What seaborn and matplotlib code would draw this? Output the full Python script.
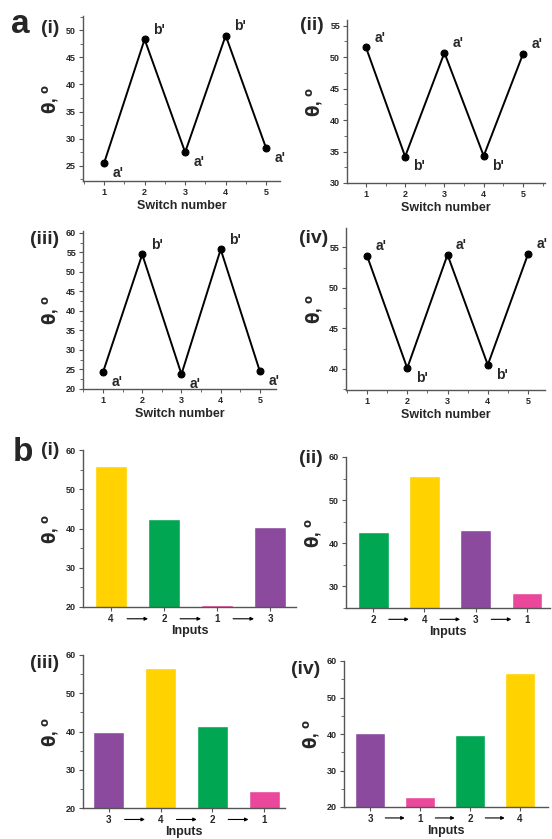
import numpy as np
import pandas as pd
import seaborn as sns
import matplotlib.pyplot as plt
from matplotlib.ticker import MultipleLocator

# ---- data ----
switch = [1, 2, 3, 4, 5]
a1_theta = [25.5, 48.3, 27.5, 49.0, 28.2]
a2_theta = [51.6, 34.2, 50.7, 34.3, 50.5]
a3_theta = [24.3, 54.5, 23.8, 55.8, 24.5]
a4_theta = [54.0, 40.1, 54.1, 40.5, 54.2]
a1_tags = ["a'", "b'", "a'", "b'", "a'"]
a2_tags = ["a'", "b'", "a'", "b'", "a'"]

b1_inputs = ["4", "2", "1", "3"]
b1_theta = [56.0, 42.5, 20.6, 40.3]
b2_inputs = ["2", "4", "3", "1"]
b2_theta = [42.7, 55.7, 43.0, 28.5]
b3_inputs = ["3", "4", "2", "1"]
b3_theta = [39.8, 56.5, 41.5, 24.5]
b4_inputs = ["3", "1", "2", "4"]
b4_theta = [40.2, 22.8, 39.7, 56.8]

input_colors = {"1": "#e9489b", "2": "#00a651", "3": "#8b4a9e", "4": "#ffd200"}

sns.set_style("ticks")
plt.rcParams["font.family"] = ["Liberation Sans", "DejaVu Sans"]
plt.rcParams["font.weight"] = "bold"

W, H = 552, 839
fig = plt.figure(figsize=(W / 100, H / 100), dpi=100)


def add_ax(left, right, top, bottom):
    return fig.add_axes([left / W, 1 - bottom / H, (right - left) / W, (bottom - top) / H])


def style_ax(ax, ymaj, ymin):
    sns.despine(ax=ax)
    for s in ["left", "bottom"]:
        ax.spines[s].set_linewidth(1.0)
        ax.spines[s].set_color("#555555")
    ax.yaxis.set_major_locator(MultipleLocator(ymaj))
    ax.yaxis.set_minor_locator(MultipleLocator(ymin))
    ax.tick_params(axis="both", which="major", direction="out", length=3, width=0.8,
                   labelsize=6.5, pad=2, color="#555555")
    ax.tick_params(axis="both", which="minor", direction="out", length=2, width=0.6,
                   color="#555555")
    for lab in ax.get_xticklabels() + ax.get_yticklabels():
        lab.set_fontweight("bold")
    ax.set_ylabel(r"$\mathbf{\theta}$, $^{\mathbf{o}}$", fontsize=12, fontweight="bold", labelpad=4)


def line_panel(ax, y, tags, xlim, ylim, ymaj, ymin, down_tag):
    df = pd.DataFrame({"switch": switch, "theta": y})
    sns.lineplot(data=df, x="switch", y="theta", ax=ax, color="black", lw=1.4,
                 marker="o", markersize=5, markeredgecolor="black")
    ax.set_xlim(*xlim)
    ax.set_ylim(*ylim)
    ax.xaxis.set_major_locator(MultipleLocator(1))
    ax.xaxis.set_minor_locator(MultipleLocator(0.5))
    style_ax(ax, ymaj, ymin)
    ax.set_xlabel("Switch number", fontsize=9, fontweight="bold", labelpad=2)
    for xv, yv, t in zip(switch, y, tags):
        off = (6, -10) if t == down_tag else (6, 4)
        ax.annotate(t, (xv, yv), xytext=off, textcoords="offset points",
                    fontsize=10, fontweight="bold")


def bar_panel(ax, inputs, y, xlim, ylim, ymaj, ymin):
    df = pd.DataFrame({"inp": inputs, "theta": y})
    sns.barplot(data=df, x="inp", y="theta", hue="inp", palette=input_colors,
                order=inputs, hue_order=inputs, ax=ax, width=0.6, legend=False,
                saturation=1)
    ax.set_xlim(*xlim)
    ax.set_ylim(*ylim)
    style_ax(ax, ymaj, ymin)
    ax.tick_params(axis="x", which="major", labelsize=7)
    ax.set_xlabel("Inputs", fontsize=9, fontweight="bold", labelpad=1)
    for i in range(len(inputs) - 1):
        ax.annotate("", xy=(i + 0.75, -0.075), xytext=(i + 0.25, -0.075),
                    xycoords=("data", "axes fraction"),
                    textcoords=("data", "axes fraction"),
                    arrowprops=dict(arrowstyle="-|>", lw=0.8, color="black",
                                    mutation_scale=5), annotation_clip=False)


# ---- panel a ----
ax = add_ax(83, 280, 16, 181)
line_panel(ax, a1_theta, a1_tags, (0.48, 5.34), (22.2, 52.6), 5, 2.5, "a'")
ax = add_ax(347, 545, 20, 183)
line_panel(ax, a2_theta, a2_tags, (0.52, 5.56), (30, 55.9), 5, 2.5, "b'")
ax = add_ax(83, 276, 231, 389)
line_panel(ax, a3_theta, a1_tags, (0.49, 5.41), (20, 60.5), 5, 2.5, "a'")
ax = add_ax(346, 545, 228, 390)
line_panel(ax, a4_theta, a2_tags, (0.48, 5.42), (37.4, 57.4), 5, 2.5, "b'")

# ---- panel b ----
ax = add_ax(83, 296, 450, 607)
bar_panel(ax, b1_inputs, b1_theta, (-0.53, 3.49), (20, 60), 10, 5)
ax = add_ax(346, 550, 457, 608)
bar_panel(ax, b2_inputs, b2_theta, (-0.53, 3.45), (25, 60), 10, 5)
ax = add_ax(83, 285, 655, 808)
bar_panel(ax, b3_inputs, b3_theta, (-0.5, 3.4), (20, 60), 10, 5)
ax = add_ax(344, 548, 661, 807)
bar_panel(ax, b4_inputs, b4_theta, (-0.52, 3.56), (20, 60), 10, 5)

# ---- panel labels ----
fig.text(11 / W, 1 - 33 / H, "a", fontsize=24, fontweight="bold")
fig.text(13 / W, 1 - 461 / H, "b", fontsize=24, fontweight="bold")
for x, y, t in [(41, 33, "(i)"), (300, 30, "(ii)"), (30, 244, "(iii)"), (299, 243, "(iv)"),
                (41, 455, "(i)"), (299, 463, "(ii)"), (30, 668, "(iii)"), (291, 674, "(iv)")]:
    fig.text(x / W, 1 - y / H, t, fontsize=14, fontweight="bold")

fig.savefig("out.png", dpi=100)
